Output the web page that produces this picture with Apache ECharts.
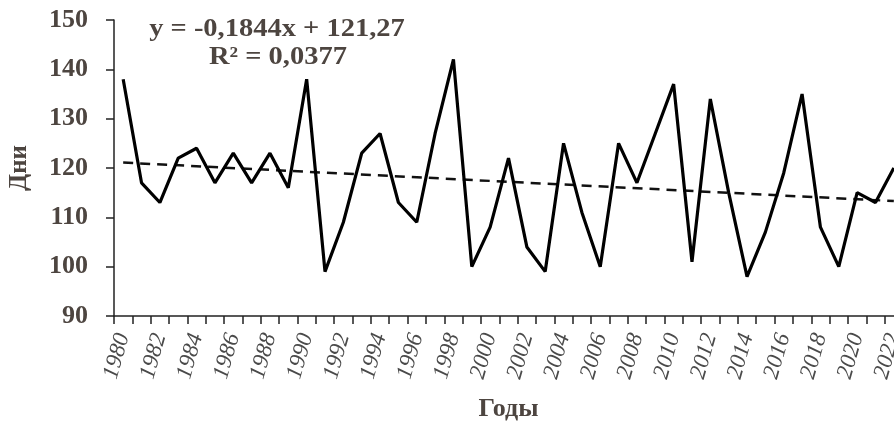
<!DOCTYPE html>
<html><head><meta charset="utf-8">
<script src="https://cdn.jsdelivr.net/npm/echarts@6/dist/echarts.min.js"></script>
<style>html,body{margin:0;padding:0;background:#fff}#c{width:894px;height:424px}</style>
</head><body><div id="c"></div>
<script>
const years = ['1980','1981','1982','1983','1984','1985','1986','1987','1988','1989','1990','1991','1992','1993','1994','1995','1996','1997','1998','1999','2000','2001','2002','2003','2004','2005','2006','2007','2008','2009','2010','2011','2012','2013','2014','2015','2016','2017','2018','2019','2020','2021','2022'];
const days = [138,117,113,122,124,117,123,117,123,116,138,99,109,123,127,113,109,127,142,100,108,122,104,99,125,111,100,125,117,127,137,101,134,115,98,107,119,135,108,100,115,113,120];
const trendStart = 121.1;
const trendEnd = 113.3;
const yTicks = {min: 90, max: 150, interval: 10};
const eqLine1 = 'y = -0,1844x + 121,27';
const eqLine2 = 'R² = 0,0377';

const txt = '#4d4540';
const chart = echarts.init(document.getElementById('c'), null, {renderer: 'canvas'});
chart.setOption({
  animation: false,
  grid: {left: 114, top: 20, width: 789, height: 296, containLabel: false, outerBoundsMode: 'none'},
  graphic: [
    {type: 'text', x: 277, y: 30, scaleX: 1.14, style: {text: eqLine1, align: 'center', verticalAlign: 'middle', font: 'bold 25px "Liberation Serif"', fill: txt}},
    {type: 'text', x: 278, y: 58, scaleX: 1.14, style: {text: eqLine2, align: 'center', verticalAlign: 'middle', font: 'bold 25px "Liberation Serif"', fill: txt}}
  ],
  xAxis: {
    type: 'category', data: years, boundaryGap: true,
    name: 'Годы', nameLocation: 'middle', nameGap: 80,
    nameTextStyle: {fontFamily: 'Liberation Serif', fontWeight: 'bold', fontSize: 26, color: txt},
    axisLine: {lineStyle: {color: '#222', width: 1.5}},
    axisTick: {show: true, interval: 0, length: 8, lineStyle: {color: '#222', width: 1.5}},
    axisLabel: {interval: 1, rotate: 74, margin: 18, fontFamily: 'Liberation Serif', fontStyle: 'italic', fontSize: 23, color: '#4a4a4a'},
    splitLine: {show: false}
  },
  yAxis: {
    type: 'value', min: yTicks.min, max: yTicks.max, interval: yTicks.interval,
    name: 'Дни', nameLocation: 'middle', nameGap: 82, nameRotate: 90,
    nameTextStyle: {fontFamily: 'Liberation Serif', fontWeight: 'bold', fontSize: 25, color: txt},
    axisLine: {show: true, lineStyle: {color: '#222', width: 1.5}},
    axisTick: {show: true, length: 8, lineStyle: {color: '#222', width: 1.5}},
    axisLabel: {margin: 26, fontFamily: 'Liberation Serif', fontWeight: 'bold', fontSize: 26, color: txt},
    splitLine: {show: false}
  },
  series: [
    {type: 'line', data: days, symbol: 'none', lineStyle: {color: '#000', width: 3.2}, z: 3},
    {type: 'line', data: [[years[0], trendStart], [years[years.length-1], trendEnd]], symbol: 'none',
     lineStyle: {color: '#111', width: 2.5, type: [10, 7]}, z: 2}
  ]
});
</script></body></html>
